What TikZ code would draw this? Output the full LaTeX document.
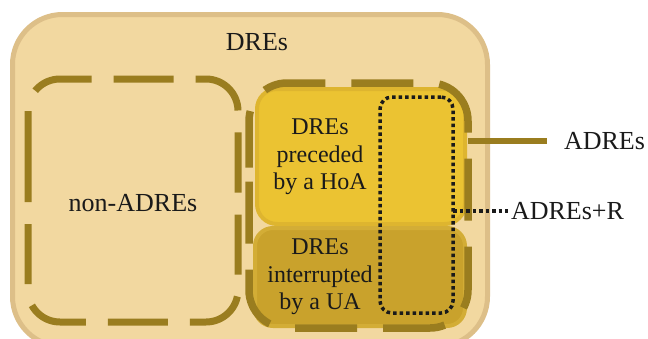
\documentclass[tikz,border=0pt]{standalone}
\usepackage{fontspec}
\setmainfont{Liberation Serif}
\definecolor{dresfill}{HTML}{F2D8A0}
\definecolor{dresedge}{HTML}{DDBF88}
\definecolor{olivedash}{HTML}{9A7D1F}
\definecolor{hoafill}{HTML}{EBC332}
\definecolor{hoaedge}{HTML}{DEB52F}
\definecolor{uafill}{HTML}{C9A22C}
\definecolor{uaedge}{HTML}{D3AD36}
\definecolor{ink}{HTML}{1A1A1A}
\begin{document}
\begin{tikzpicture}[x=1pt,y=-1pt,
  every node/.style={inner sep=0pt, outer sep=0pt},
  setline/.style={draw=olivedash, line width=7pt},
  dotbox/.style={rectangle, draw=ink, line width=3.5pt, dash pattern=on 3.5pt off 3pt},
  lbl/.style={text=ink, font=\fontsize{26}{30}\selectfont},
  inlbl/.style={text=ink, align=center, font=\fontsize{24}{27.5}\selectfont},
]
\fill[white] (0,0) rectangle (648,338);
\useasboundingbox (0,0) rectangle (648,338);
\begin{scope}
\clip (0,0) rectangle (648,338);
% the whole set of DREs
\node[draw=dresedge, fill=dresfill, line width=5pt, rounded corners=50pt,
      minimum width=475pt, minimum height=332pt] (dres) at (250,180.5) {};
% the two coloured subsets
\node[draw=hoaedge, fill=hoafill, line width=4pt, rounded corners=20pt,
      minimum width=208pt, minimum height=135pt] (hoa) at (361,156.5) {};
\node[draw=uaedge, fill=uafill, line width=4pt, rounded corners=18pt,
      minimum width=210pt, minimum height=98pt] (ua) at (360,277) {};
% dashed outlines, traced from the middle of the left side
\node[rectangle, minimum width=210pt, minimum height=243pt] (nonadres) at (133,200.5) {};
\draw[setline, rounded corners=32pt, dash pattern=on 60pt off 22pt, dash phase=2.5pt]
  (nonadres.west) -- (nonadres.north west) -- (nonadres.north east)
  -- (nonadres.south east) -- (nonadres.south west) -- cycle;
\node[rectangle, minimum width=219pt, minimum height=245pt] (adres) at (358.5,205.5) {};
\draw[setline, line width=7.5pt, rounded corners=38pt, dash pattern=on 62pt off 26pt, dash phase=5.5pt]
  (adres.west) -- (adres.north west) -- (adres.north east)
  -- (adres.south east) -- (adres.south west) -- cycle;
% dotted outline of ADREs+R
\node[dotbox, rounded corners=12pt, minimum width=73pt, minimum height=216pt] (adresr) at (416.5,205) {};
% labels
\node[lbl] (dreslbl) at (257,42) {DREs};
\node[lbl] (nonlbl) at (133,203) {non-ADREs};
\node[inlbl] (hoalbl) at (320,157) {DREs\\preceded\\by a HoA};
\node[inlbl] (ualbl) at (320,277) {DREs\\interrupted\\by a UA};
\node[lbl, anchor=west] (adreslbl) at (564,141) {ADREs};
\node[lbl, anchor=west] (rlbl) at (511,211) {ADREs+R};
% connectors to the outside labels
\draw[olivedash, line width=6.5pt] (adres.east |- adreslbl.west) -- ([xshift=-17pt]adreslbl.west);
\draw[ink, line width=3.5pt, dash pattern=on 3.5pt off 3pt] (adresr.east |- rlbl.west) -- ([xshift=-3pt]rlbl.west);
\end{scope}
\end{tikzpicture}
\end{document}
